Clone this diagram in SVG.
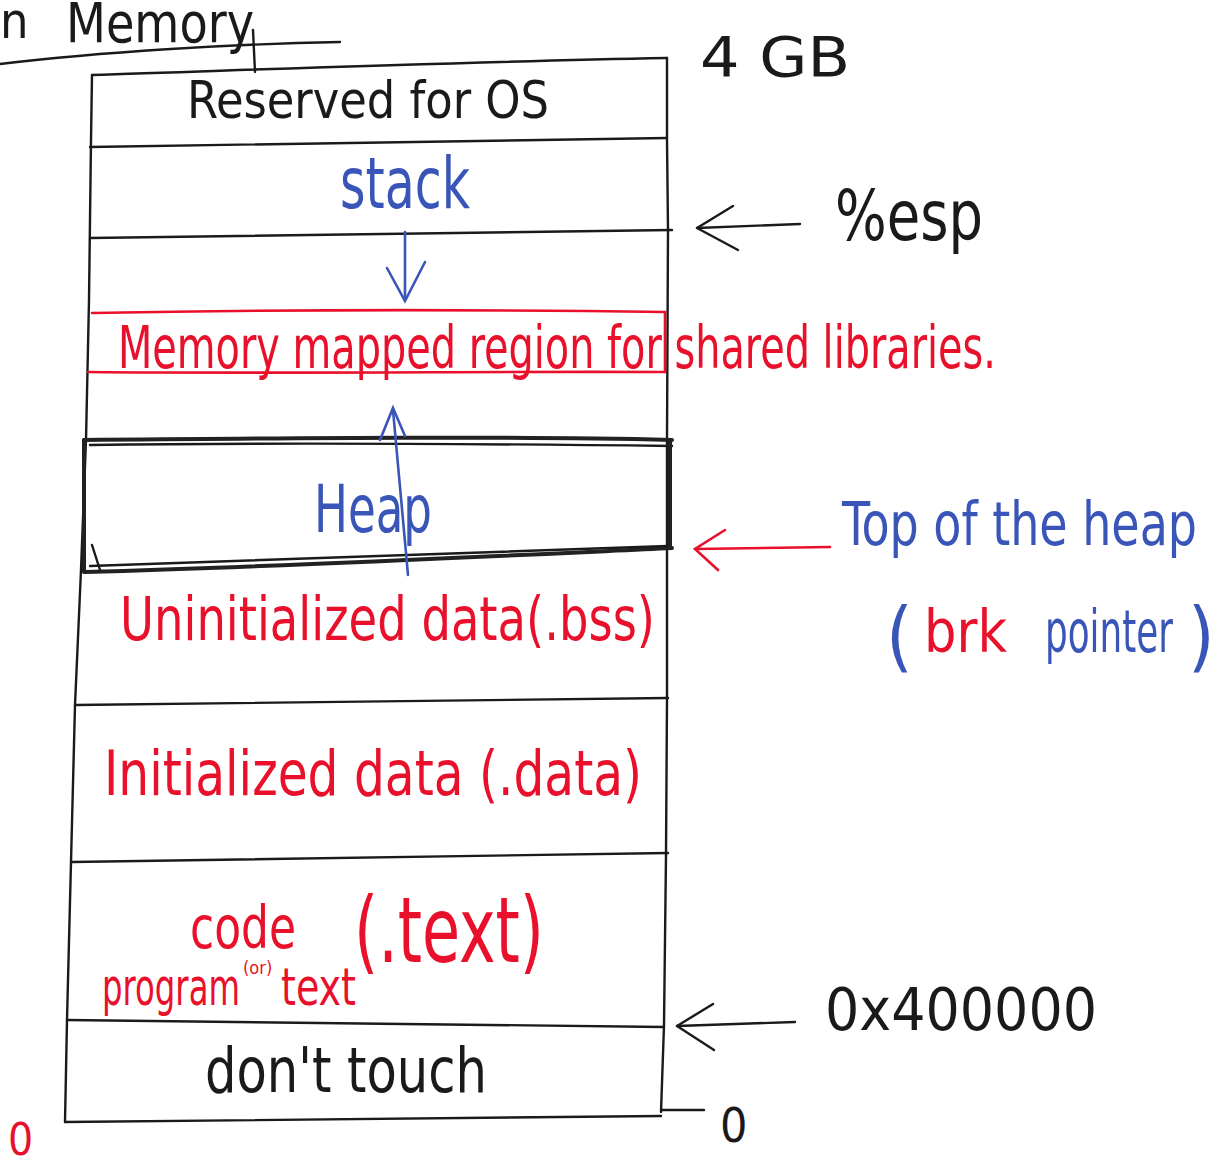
<svg xmlns="http://www.w3.org/2000/svg" width="1228" height="1161" viewBox="0 0 1228 1161">
  <style>
    .ink { fill: none; stroke: #1a1a1a; stroke-width: 2.4; stroke-linecap: round; stroke-linejoin: round; }
    .thick { fill: none; stroke: #222; stroke-width: 4; stroke-linecap: round; }
    .red { fill: none; stroke: #e8102a; stroke-width: 2.6; stroke-linecap: round; }
    .blue { fill: none; stroke: #3a55b8; stroke-width: 2.6; stroke-linecap: round; }
    text { font-family: "DejaVu Sans Condensed", "Liberation Sans", sans-serif; }
    .tk { fill: #1a1a1a; }
    .tr { fill: #e8102a; }
    .tb { fill: #3a55b8; }
  </style>

  <rect width="1228" height="1161" fill="#ffffff"/>

  <!-- heading at the top of the page -->
  <g id="heading">
    <text class="tk" x="0" y="38" font-size="50" font-weight="300">n</text>
    <text class="tk" x="66" y="42" font-size="56" font-weight="300" textLength="188" lengthAdjust="spacingAndGlyphs">Memory</text>
    <path class="ink" d="M0,64 C100,52 230,44 340,42"/>
    <path class="ink" d="M253,30 L255,72"/>
  </g>

  <!-- memory column frame -->
  <g id="frame">
    <path class="ink" d="M92,75 L91,140 L89,300 L86,440 L81,570 L75,705 L71,862 L67,1020 L65,1122"/>
    <path class="ink" d="M667,58 L667,140 L668,230 L667,440 L667,700 L666,855 L664,1025 L661,1112"/>
    <path class="ink" d="M92,75 C250,70 450,62 667,58"/>
    <path class="ink" d="M65,1122 C250,1120 450,1119 661,1116"/>
  </g>

  <g id="reserved">
    <path class="ink" d="M90,147 C300,143 500,140 667,138"/>
    <text class="tk" x="187" y="118" font-size="52" textLength="362" lengthAdjust="spacingAndGlyphs">Reserved for OS</text>
  </g>

  <g id="stack">
    <path class="ink" d="M90,238 C300,235 500,232 672,230"/>
    <text class="tb" x="340" y="208" font-size="72" textLength="130" lengthAdjust="spacingAndGlyphs">stack</text>
  </g>

  <g id="mmap">
    <path class="red" d="M92,313 C250,310 450,309 665,312 L665,372"/>
    <path class="red" d="M88,372 C300,374 500,371 665,372"/>
    <text class="tr" x="118" y="368" font-size="58" textLength="878" lengthAdjust="spacingAndGlyphs">Memory mapped region for shared libraries.</text>
  </g>

  <g id="heap">
    <path class="thick" d="M84,440 C300,438 500,436 672,440"/>
    <path class="ink" d="M90,445 C300,442 500,444 672,446"/>
    <path class="thick" d="M85,572 C300,566 500,556 672,548"/>
    <path class="ink" d="M90,566 C300,560 500,552 668,546"/>
    <path class="thick" d="M84,440 L84,572"/>
    <path class="thick" d="M670,440 L670,548"/>
    <path class="ink" d="M92,545 L100,570"/>
    <text class="tb" x="314" y="532" font-size="66" textLength="118" lengthAdjust="spacingAndGlyphs">Heap</text>
  </g>

  <g id="bss">
    <path class="ink" d="M75,705 C300,702 500,700 668,698"/>
    <text class="tr" x="120" y="640" font-size="60" textLength="535" lengthAdjust="spacingAndGlyphs">Uninitialized data(.bss)</text>
  </g>

  <g id="data">
    <path class="ink" d="M72,862 C300,858 500,855 668,853"/>
    <text class="tr" x="104" y="795" font-size="62" textLength="538" lengthAdjust="spacingAndGlyphs">Initialized data (.data)</text>
  </g>

  <g id="text-seg">
    <path class="ink" d="M67,1020 C300,1022 500,1024 664,1027"/>
    <text class="tr" x="190" y="948" font-size="58" textLength="106" lengthAdjust="spacingAndGlyphs">code</text>
    <text class="tr" x="102" y="1005" font-size="52" textLength="138" lengthAdjust="spacingAndGlyphs">program</text>
    <text class="tr" x="243" y="974" font-size="18">(or)</text>
    <text class="tr" x="281" y="1005" font-size="52" textLength="75" lengthAdjust="spacingAndGlyphs">text</text>
    <text class="tr" x="354" y="962" font-size="90" textLength="190" lengthAdjust="spacingAndGlyphs">(.text)</text>
  </g>

  <g id="reserved-low">
    <text class="tk" x="205" y="1092" font-size="62" textLength="282" lengthAdjust="spacingAndGlyphs">don't touch</text>
  </g>

  <!-- side labels -->
  <g id="label-4gb">
    <text class="tk" x="700" y="76" font-size="56" font-weight="300" textLength="150" lengthAdjust="spacingAndGlyphs">4 GB</text>
  </g>
  <g id="label-esp">
    <text class="tk" x="835" y="240" font-size="70" textLength="148" lengthAdjust="spacingAndGlyphs">%esp</text>
  </g>
  <g id="label-brk">
    <text class="tb" x="842" y="545" font-size="60" textLength="355" lengthAdjust="spacingAndGlyphs">Top of the heap</text>
    <text class="tb" x="886" y="662" font-size="76" font-weight="300">(</text>
    <text class="tr" x="924" y="652" font-size="58" textLength="83" lengthAdjust="spacingAndGlyphs">brk</text>
    <text class="tb" x="1045" y="652" font-size="58" textLength="128" lengthAdjust="spacingAndGlyphs">pointer</text>
    <text class="tb" x="1188" y="662" font-size="76" font-weight="300">)</text>
  </g>
  <g id="label-400000">
    <text class="tk" x="825" y="1030" font-size="58" textLength="272" lengthAdjust="spacingAndGlyphs">0x400000</text>
  </g>
  <g id="label-zero">
    <text class="tk" x="720" y="1142" font-size="48">0</text>
    <text class="tr" x="8" y="1155" font-size="44">0</text>
  </g>

  <!-- connectors -->
  <g id="connectors">
    <path class="blue" d="M405,232 L405,300"/>
    <path class="blue" d="M387,268 L405,301 L425,262"/>
    <path class="blue" d="M408,575 L393,410"/>
    <path class="blue" d="M380,440 L393,408 L405,436"/>
    <path class="ink" d="M800,224 L697,228"/>
    <path class="ink" d="M733,206 L697,228 L738,250"/>
    <path class="red" d="M830,547 L695,549"/>
    <path class="red" d="M725,530 L695,549 L718,570"/>
    <path class="ink" d="M795,1022 L677,1026"/>
    <path class="ink" d="M713,1004 L677,1026 L714,1050"/>
    <path class="ink" d="M662,1110 L704,1110"/>
  </g>
</svg>
